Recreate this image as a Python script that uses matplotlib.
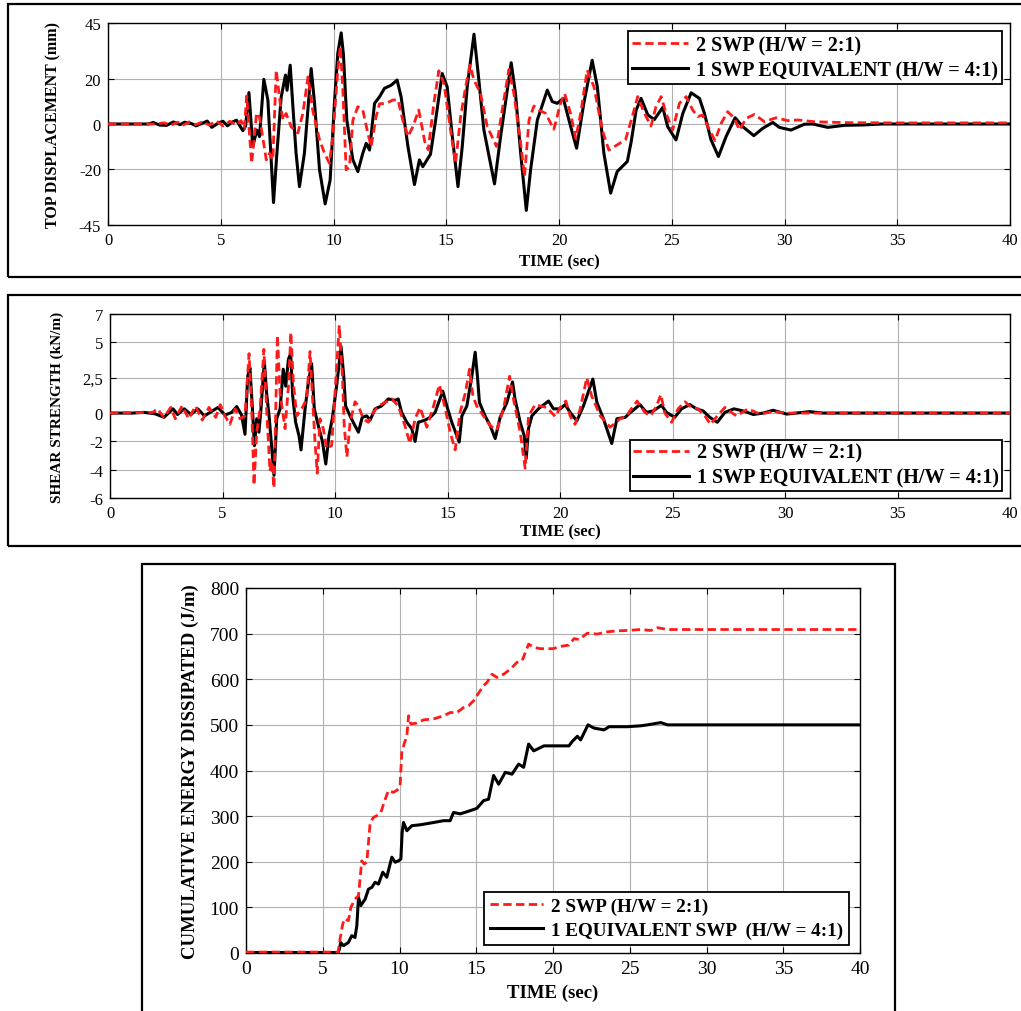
import matplotlib
matplotlib.use("Agg")
import matplotlib.pyplot as plt
from matplotlib.patches import Rectangle

# ---- data (time in s) ----
# top displacement (mm)
t_disp_2swp = [0, 2.0, 2.5, 2.8, 3.1, 3.3, 3.6, 3.9, 4.2, 4.5, 4.8, 5.1, 5.4, 5.7, 5.9, 6.05, 6.15, 6.37,
               6.59, 6.72, 7.02, 7.16, 7.31, 7.46, 7.64, 7.76, 7.9, 8.12, 8.42, 8.64, 8.87, 9.08, 9.38, 9.6,
               9.82, 9.97, 10.19, 10.3, 10.41, 10.56, 10.71, 10.86, 11.08, 11.3, 11.52, 11.67, 11.89, 12.04,
               12.34, 12.63, 12.86, 13.07, 13.3, 13.52, 13.78, 14.05, 14.2, 14.45, 14.67, 14.9, 15.19, 15.41,
               15.64, 15.86, 16.05, 16.23, 16.52, 16.82, 17.23, 17.48, 17.78, 18.0, 18.3, 18.47, 18.67, 18.89,
               19.11, 19.41, 19.77, 20.07, 20.25, 20.51, 20.74, 20.96, 21.25, 21.55, 21.92, 22.21, 22.58,
               22.95, 23.25, 23.49, 23.79, 24.08, 24.3, 24.53, 24.75, 25.04, 25.34, 25.64, 25.93, 26.15,
               26.37, 26.67, 26.92, 27.19, 27.48, 27.78, 28.0, 28.3, 28.67, 29.11, 29.63, 30.14, 30.59,
               31.33, 32.8, 35, 40]
v_disp_2swp = [0, 0, 0.5, -0.5, 0.8, -0.6, 0.9, -0.3, 1.0, -0.5, 1.4, -0.8, 1.2, -0.5, 1.5, -2, 12.5, -17.5,
               4.9, 3, -16, -13, -16, 24, 9, 1.8, 4.7, -1.2, -4, 4.7, 21, 6, -7, -13,
               -17.5, -5.6, 24, 34.4, 16.6, -20.4, -19, 1.8, 7.7, 6.2, -4, -10, 3.3, 9,
               9.2, 10.7, 10.7, 1.8, -5.6, -1.2, 6.2, -8, -11.5, 9.2, 23.7, 18, -2.7, -17.5,
               3.3, 16.6, 26.2, 19.6, 13.6, -1.2, -10, 6.2, 24.3, 13.6, -8.6, -23.4, 1.8, 8,
               6.2, 4.7, -2.4, 9.2, 13.6, 4.7, -6.4, 4.7, 24, 16.6, -2.7, -11.6, -9.3,
               -7, 3.3, 12.2, 4.7, -0.9, 7.7, 12.2, 4.7, -2.7, 9.2, 12.2, 6.2, 3.3,
               4, -2.7, -7.4, 0.3, 5.5, 2.5, -2.7, 2.5, 4.3, 1, 2.8, 1.5, 1.8,
               1, 0.6, 0.5, 0.5]
t_disp_1swp = [0, 1.8, 2.0, 2.3, 2.6, 2.9, 3.2, 3.4, 3.7, 3.9, 4.2, 4.4, 4.6, 4.9, 5.1, 5.3, 5.5, 5.7, 5.98,
               6.1, 6.25, 6.42, 6.6, 6.72, 6.91, 7.09, 7.34, 7.49, 7.68, 7.87, 7.94, 8.08, 8.2, 8.34, 8.49,
               8.71, 9.01, 9.16, 9.38, 9.63, 9.85, 10.04, 10.19, 10.34, 10.44, 10.59, 10.86, 11.08, 11.3,
               11.45, 11.6, 11.82, 12.04, 12.26, 12.56, 12.82, 13.0, 13.3, 13.59, 13.81, 13.96, 14.3, 14.53,
               14.82, 15.04, 15.27, 15.52, 15.71, 15.93, 16.23, 16.4, 16.67, 17.14, 17.41, 17.88, 18.07,
               18.3, 18.55, 18.74, 19.04, 19.48, 19.7, 19.92, 20.19, 20.44, 20.78, 21.1, 21.47, 21.7, 21.99,
               22.29, 22.58, 23.03, 23.2, 23.42, 23.64, 23.94, 24.23, 24.6, 24.82, 25.19, 25.49, 25.86,
               26.23, 26.45, 26.74, 27.07, 27.41, 27.81, 28.15, 28.64, 29.04, 29.48, 29.77, 30.29, 30.88,
               31.25, 31.92, 32.66, 33.54, 34.3, 40]
v_disp_1swp = [0, 0, 0.7, -0.5, -0.6, 0.9, -0.3, 0.8, 0.2, -0.8, 0.4, 1.3, -1.5, 0.5, 1.2, -0.8, 0.8, 1.7, -3,
               -1, 14, -10, -2.7, -5.6, 19.9, 10.7, -35, -13, 12, 21.8, 15, 26.2, 7.7, -13, -27.9,
               -13, 24.7, 9.2, -20.4, -35.6, -25, 9.2, 31.4, 40.6, 31, 1.8, -16, -21.2, -13,
               -8.6, -11.6, 9.2, 12.1, 15.9, 17.3, 19.6, 12, -10, -27, -16, -19, -13.5, 1.8,
               22.5, 16.6, -5.6, -27.9, -10, 16.6, 40, 24, -2.7, -26.7, -5.6, 27.3, 13.6,
               -13, -38.5, -20.4, 1.8, 15.1, 10, 9.2, 11.4, 1.8, -10.8, 9.2, 28.4, 16.6, -13,
               -30.8, -21.2, -16.7, -8, 6.2, 11.4, 4, 2, 7.4, -1.2, -7.1, 4.7, 13.9,
               11.4, 4.7, -7, -14.5, -5.6, 2.8, -1.2, -5.2, -1.9, 0.7, -1.5, -2.7, -0.1,
               0, -1.5, -0.6, -0.4, 0, 0]

# shear strength (kN/m)
t_shear_2swp = [0, 1.9, 2.1, 2.4, 2.7, 2.9, 3.2, 3.5, 3.8, 4.1, 4.4, 4.7, 4.9, 5.11, 5.33, 5.56, 5.78, 6.0,
                6.18, 6.3, 6.4, 6.52, 6.67, 6.84, 6.96, 7.11, 7.19, 7.29, 7.36, 7.44, 7.56, 7.78, 7.93, 8.04,
                8.15, 8.3, 8.52, 8.74, 8.89, 8.99, 9.11, 9.21, 9.33, 9.48, 9.63, 9.85, 10.0, 10.19, 10.33,
                10.41, 10.53, 10.67, 10.89, 11.04, 11.26, 11.48, 11.7, 11.93, 12.22, 12.52, 12.81, 13.11,
                13.33, 13.56, 13.78, 14.08, 14.38, 14.64, 14.9, 15.12, 15.34, 15.56, 15.79, 15.98, 16.13,
                16.3, 16.6, 16.9, 17.19, 17.49, 17.76, 17.93, 18.23, 18.45, 18.6, 18.9, 19.12, 19.41, 19.79,
                20.01, 20.26, 20.45, 20.67, 20.9, 21.19, 21.41, 21.79, 22.23, 22.38, 22.67, 22.97, 23.1,
                23.43, 23.77, 24.02, 24.29, 24.48, 24.66, 24.96, 25.25, 25.55, 25.84, 26.14, 26.44, 26.69,
                26.99, 27.33, 27.62, 27.84, 28.36, 28.88, 29.47, 30.21, 40]
v_shear_2swp = [0, 0.05, 0.3, -0.3, 0.4, -0.4, 0.5, -0.4, 0.5, -0.5, 0.4, -0.3, 0.6, -0.2, -0.8, 0.3, -0.4, -0.2,
                4.2, 0.3, -5.1, -1.35, 0.3, 4.5, 0.3, -4.1, -3.4, -5.3, -0.2, 5.5, 1.4, -1.1, 1.9, 5.7,
                2.1, -0.2, 0.3, 1.0, 4.35, 1.4, -2.0, -4.25, -0.4, -1.1, -2.5, -2.3, 1.4, 6.2, 2.6,
                -0.9, -3.1, -0.65, 0.8, 0.5, -0.4, -0.65, 0.05, 0.5, 0.75, 1.0, 0.5, -0.9,
                -2.15, -0.4, 0.4, -1.0, 0.5, 2.0, 0.3, -1.35, -2.6, 0.05, 1.4, 3.1, 1.2,
                0.5, -0.2, -0.9, -1.2, 0.3, 2.6, 1.0, -1.35, -3.9, -0.2, 0.6, 0.5, 0.4, -0.25,
                0.4, 0.85, -0.2, -0.8, 0.3, 2.5, 1.2, -0.2, -1.0, -0.8, -0.4, -0.2, 0.15,
                0.85, 0.05, -0.2, 0.5, 1.3, 0, -0.65, 0.3, 0.8, 0.4, 0.3, -0.2, -0.8,
                -0.2, 0.4, 0.05, -0.2, 0.3, -0.07, 0.1, 0, 0]
t_shear_1swp = [0, 1.0, 1.5, 2.0, 2.4, 2.8, 3.0, 3.3, 3.6, 3.9, 4.2, 4.5, 4.8, 5.11, 5.41, 5.63, 5.85, 6.0,
                6.12, 6.22, 6.33, 6.42, 6.52, 6.62, 6.71, 6.86, 6.96, 7.07, 7.19, 7.29, 7.41, 7.56, 7.7, 7.81,
                7.93, 8.03, 8.12, 8.25, 8.4, 8.49, 8.67, 8.81, 8.96, 9.08, 9.26, 9.44, 9.59, 9.73, 9.88,
                10.07, 10.27, 10.39, 10.47, 10.67, 10.89, 11.04, 11.21, 11.41, 11.56, 11.78, 12.07, 12.37,
                12.67, 12.81, 12.96, 13.19, 13.41, 13.56, 13.7, 14.0, 14.23, 14.45, 14.79, 14.97, 15.19,
                15.52, 15.64, 15.86, 16.08, 16.23, 16.33, 16.42, 16.67, 16.9, 17.12, 17.34, 17.64, 17.89,
                18.0, 18.23, 18.41, 18.5, 18.6, 18.75, 19.04, 19.49, 19.71, 20.01, 20.23, 20.45, 20.75,
                21.04, 21.46, 21.64, 21.93, 22.3, 22.53, 22.9, 23.1, 23.55, 23.84, 24.14, 24.51, 24.73,
                25.1, 25.4, 25.77, 26.07, 26.36, 26.66, 26.99, 27.33, 27.73, 28.14, 28.59, 29.03, 29.47,
                30.07, 30.51, 31.1, 31.7, 40]
v_shear_1swp = [0, 0, 0.05, -0.05, -0.3, 0.3, -0.1, 0.3, -0.1, 0.3, -0.2, 0.1, 0.4, -0.14, 0.05, 0.46, -0.14, -1.5,
                2.6, 3.2, 0.3, -2.3, -0.4, -1.35, 0.3, 3.65, 1.4, -0.2, -2.5, -4.4, -0.4, 0.3, 3.1, 1.9,
                3.8, 4.2, 1.2, -0.65, -1.6, -2.6, 0.3, 2.1, 3.5, 0.3, -0.9, -2.0, -3.6, -1.6, -0.4,
                1.9, 4.7, 2.6, 0.5, -0.2, -0.9, -1.35, -0.3, -0.2, -0.5, 0.3, 0.5, 1.0,
                0.9, 1.0, 0.05, -0.65, -1.1, -2.0, -0.65, -0.5, -0.3, 0.05, 1.55, 0.5, -0.65,
                -2.05, -0.2, 0.5, 2.6, 4.3, 2.6, 0.75, -0.2, -0.9, -1.8, -0.3, 0.75, 2.2,
                1.0, -0.65, -1.6, -3.2, -1.1, -0.2, 0.3, 0.85, 0.3, 0.3, 0.6, 0.05, -0.55,
                0.5, 2.4, 0.75, -0.4, -2.15, -0.4, -0.3, 0, 0.6, 0.05, 0.15, 0.55, 0.05,
                -0.3, 0.3, 0.6, 0.3, 0.15, -0.3, -0.65, 0.05, 0.3, 0.15, -0.1, 0, 0.2,
                -0.07, 0, 0.1, 0, 0]

# cumulative energy dissipated (J/m)
t_energy_2swp = [0, 6.0, 6.13, 6.28, 6.4, 6.67, 6.83, 7.1, 7.33, 7.43, 7.54, 7.7, 7.87, 8.09, 8.3, 8.52, 8.78,
                 9.07, 9.28, 9.6, 9.93, 10.04, 10.15, 10.3, 10.48, 10.59, 10.74, 11.13, 11.57, 12.22, 12.87,
                 13.3, 13.74, 14.17, 14.5, 14.83, 15.26, 15.48, 15.7, 16.02, 16.35, 16.78, 17.22, 17.65,
                 17.98, 18.41, 18.74, 19.17, 20.0, 20.5, 21.04, 21.37, 21.7, 22.24, 22.89, 23.54, 24.2,
                 24.85, 25.72, 26.37, 26.8, 27.46, 40]
v_energy_2swp = [2, 2, 31, 60, 75, 71, 100, 118, 126, 162, 202, 195, 199, 286, 297, 301, 308,
                 337, 356, 352, 359, 367, 440, 458, 476, 520, 502, 504, 511, 513, 520,
                 527, 527, 538, 542, 553, 575, 586, 593, 611, 604, 611, 622, 637,
                 640, 677, 670, 667, 667, 672, 675, 689, 687, 701, 699, 704, 706,
                 707, 709, 707, 713, 709, 709]
t_energy_1swp = [0, 6.0, 6.09, 6.17, 6.35, 6.67, 6.89, 7.1, 7.22, 7.33, 7.48, 7.76, 7.98, 8.2, 8.41, 8.63,
                 8.91, 9.17, 9.5, 9.72, 9.93, 10.09, 10.17, 10.26, 10.48, 10.8, 11.35, 12.22, 12.87, 13.3,
                 13.52, 13.96, 14.61, 15.04, 15.48, 15.8, 16.13, 16.46, 16.89, 17.33, 17.76, 18.09, 18.41,
                 18.74, 19.17, 19.41, 20.0, 21.04, 21.26, 21.59, 21.8, 22.28, 22.67, 23.33, 23.65, 24.85,
                 25.72, 26.15, 27.02, 27.46, 40]
v_energy_1swp = [1, 1, 9, 23, 16, 23, 38, 34, 60, 122, 104, 118, 140, 144, 155, 151,
                 177, 166, 210, 199, 202, 206, 264, 286, 268, 279, 281, 286, 290, 290,
                 308, 305, 312, 317, 334, 337, 389, 370, 396, 392, 414, 407, 458,
                 443, 450, 454, 454, 454, 464, 475, 467, 500, 493, 489, 496, 496,
                 498, 500, 505, 500, 500]

x_ticks = [0, 5, 10, 15, 20, 25, 30, 35, 40]
disp_ticks = [45, 20, 0, -20, -45]
shear_ticks = [7, 5, 2.5, 0, -2, -4, -6]
shear_tick_labels = ["7", "5", "2,5", "0", "-2", "-4", "-6"]
energy_ticks = [0, 100, 200, 300, 400, 500, 600, 700, 800]

W, H = 1021, 1012
RED = "#ff1a1a"
plt.rcParams["font.family"] = ["Liberation Serif", "DejaVu Serif"]
plt.rcParams["axes.unicode_minus"] = False


def px_axes(fig, left, top, right, bottom):
    return fig.add_axes([left / W, 1 - bottom / H, (right - left) / W, (bottom - top) / H])


def frame(fig, left, top, right, bottom):
    fig.add_artist(Rectangle((left / W, 1 - bottom / H), (right - left) / W, (bottom - top) / H,
                             transform=fig.transFigure, fill=False, lw=1.6, ec="black"))


def style(ax, fs):
    ax.set_xlim(0, 40)
    ax.set_xticks(x_ticks)
    ax.grid(True, color="#b0b0b0", lw=0.8)
    ax.tick_params(direction="in", top=True, right=True, length=4, width=0.8,
                   labelsize=fs, pad=5)
    for s in ax.spines.values():
        s.set_linewidth(1.0)


def draw(ax, t_red, v_red, t_blk, v_blk):
    hb, = ax.plot(t_blk, v_blk, color="black", lw=2.2, zorder=3, solid_joinstyle="round")
    hr, = ax.plot(t_red, v_red, color=RED, lw=2.0, ls=(0, (3, 1.6)), zorder=4)
    return hr, hb


def legend(ax, labels, loc, anchor, size, pad, spacing=0.25):
    hr, hb = ax.get_lines()[1], ax.get_lines()[0]
    leg = ax.legend([hr, hb], labels, loc=loc, bbox_to_anchor=(anchor[0] / W, 1 - anchor[1] / H),
                    bbox_transform=ax.figure.transFigure, prop={"weight": "bold", "size": size},
                    fancybox=False, edgecolor="black", framealpha=1, handlelength=2.8,
                    handletextpad=0.4, labelspacing=spacing, borderpad=pad, borderaxespad=0)
    leg.get_frame().set_linewidth(1.3)


fig = plt.figure(figsize=(W / 100, H / 100), dpi=100)

# panel 1: top displacement
frame(fig, 8, 5, 1030, 278)
ax1 = px_axes(fig, 108, 24, 1010, 226)
draw(ax1, t_disp_2swp, v_disp_2swp, t_disp_1swp, v_disp_1swp)
ax1.set_ylim(-45, 45)
ax1.set_yticks(disp_ticks)
style(ax1, 12)
ax1.set_ylabel("TOP DISPLACEMENT (mm)", fontsize=11.5, fontweight="bold", va="center")
ax1.yaxis.set_label_coords(-0.061, 0.5)
ax1.set_xlabel("TIME (sec)", fontsize=12, fontweight="bold", va="center")
ax1.xaxis.set_label_coords(0.5, -0.178)
legend(ax1, ["2 SWP (H/W = 2:1)", "1 SWP EQUIVALENT (H/W = 4:1)"], "upper right", (1002, 32), 14.5, 0.2)

# panel 2: shear strength
frame(fig, 8, 296, 1030, 547)
ax2 = px_axes(fig, 110, 315, 1010, 499)
draw(ax2, t_shear_2swp, v_shear_2swp, t_shear_1swp, v_shear_1swp)
ax2.set_ylim(-6, 7)
ax2.set_yticks(shear_ticks)
ax2.set_yticklabels(shear_tick_labels)
style(ax2, 12)
ax2.set_ylabel("SHEAR STRENGTH (kN/m)", fontsize=11, fontweight="bold", va="center")
ax2.yaxis.set_label_coords(-0.059, 0.5)
ax2.set_xlabel("TIME (sec)", fontsize=12, fontweight="bold", va="center")
ax2.xaxis.set_label_coords(0.5, -0.179)
legend(ax2, ["2 SWP (H/W = 2:1)", "1 SWP EQUIVALENT (H/W = 4:1)"], "lower right", (1002, 492), 14.5, 0.15)

# panel 3: cumulative energy
frame(fig, 142, 565, 895, 1030)
ax3 = px_axes(fig, 246, 589, 860, 954)
draw(ax3, t_energy_2swp, v_energy_2swp, t_energy_1swp, v_energy_1swp)
ax3.set_ylim(0, 800)
ax3.set_yticks(energy_ticks)
style(ax3, 14)
ax3.set_ylabel("CUMULATIVE ENERGY DISSIPATED (J/m)", fontsize=13.5, fontweight="bold", va="center")
ax3.yaxis.set_label_coords(-0.09, 0.5)
ax3.set_xlabel("TIME (sec)", fontsize=13.5, fontweight="bold", va="center")
ax3.xaxis.set_label_coords(0.5, -0.107)
legend(ax3, ["2 SWP (H/W = 2:1)", "1 EQUIVALENT SWP  (H/W = 4:1)"], "lower left", (484, 946), 13.8, 0.3, 0.35)

fig.savefig("out.png", dpi=100)
